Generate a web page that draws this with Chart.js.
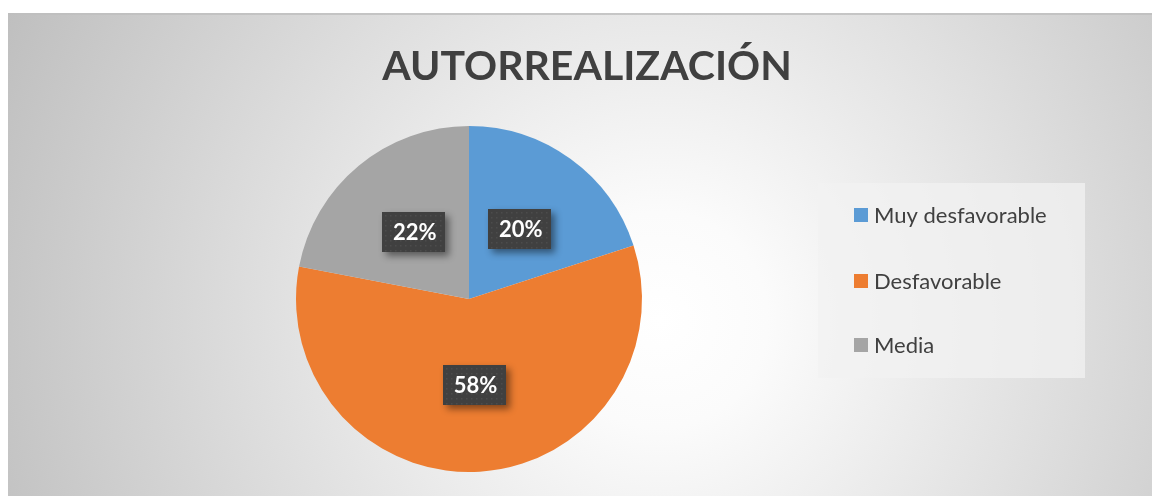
<!DOCTYPE html>
<html>
<head>
<meta charset="utf-8">
<script src="https://cdn.jsdelivr.net/npm/chart.js@4.4.0/dist/chart.umd.min.js"></script>
<style>
  html, body { margin: 0; padding: 0; background: #ffffff; }
  #wrap { width: 1152px; height: 496px; position: relative; }
</style>
</head>
<body>
<div id="wrap"><canvas id="c" width="1152" height="496"></canvas></div>
<script>
const titleText = "AUTORREALIZACIÓN";
const categories = ["Muy desfavorable", "Desfavorable", "Media"];
const values = [20, 58, 22];
const colors = ["#5B9BD5", "#ED7D31", "#A5A5A5"];

const backgroundPlugin = {
  id: 'bg',
  beforeDraw(chart) {
    const ctx = chart.ctx;
    ctx.save();
    ctx.fillStyle = '#ffffff';
    ctx.fillRect(0, 0, chart.width, chart.height);
    const x0 = 8, y0 = 13;
    const g = ctx.createRadialGradient(660, 320, 0, 660, 320, 720);
    g.addColorStop(0, '#ffffff');
    g.addColorStop(0.15, '#fbfbfb');
    g.addColorStop(1, '#bfbfbf');
    ctx.fillStyle = g;
    ctx.fillRect(x0, y0, chart.width - x0, chart.height - y0);
    ctx.fillStyle = 'rgba(190,190,190,0.8)';
    ctx.fillRect(x0, y0, chart.width - x0, 2);
    // title
    ctx.fillStyle = '#404040';
    ctx.font = 'bold 41px Lato, "Open Sans", sans-serif';
    ctx.textAlign = 'center';
    ctx.textBaseline = 'alphabetic';
    ctx.fillText(titleText, 587, 80);
    // legend box
    ctx.fillStyle = 'rgba(242,242,242,0.75)';
    ctx.fillRect(818, 183, 267, 195);
    const rows = [215, 281, 345];
    ctx.font = '22px Lato, "Open Sans", sans-serif';
    ctx.textAlign = 'left';
    ctx.textBaseline = 'middle';
    chart.data.labels.forEach((lab, i) => {
      ctx.fillStyle = chart.data.datasets[0].backgroundColor[i];
      ctx.fillRect(854, rows[i] - 7, 14, 14);
      ctx.fillStyle = '#404040';
      ctx.fillText(lab, 874, rows[i] + 1);
    });
    ctx.restore();
  }
};

const labelPlugin = {
  id: 'boxlabels',
  afterDatasetsDraw(chart) {
    const ctx = chart.ctx;
    const meta = chart.getDatasetMeta(0);
    const data = chart.data.datasets[0].data;
    const total = data.reduce((a, b) => a + b, 0);
    ctx.save();
    meta.data.forEach((arc, i) => {
      const p = arc.tooltipPosition();
      const txt = Math.round(data[i] / total * 100) + '%';
      const w = 63, h = 40;
      const x = Math.round(p.x - w / 2), y = Math.round(p.y - h / 2);
      ctx.save();
      ctx.shadowColor = 'rgba(0,0,0,0.45)';
      ctx.shadowBlur = 7;
      ctx.shadowOffsetX = 4;
      ctx.shadowOffsetY = 4;
      ctx.fillStyle = '#404040';
      ctx.fillRect(x, y, w, h);
      ctx.restore();
      ctx.fillStyle = '#4c4c4c';
      for (let yy = y + 3; yy < y + h - 1; yy += 5) {
        for (let xx = x + 3; xx < x + w - 1; xx += 5) {
          ctx.fillRect(xx, yy, 1.5, 1.5);
        }
      }
      ctx.fillStyle = '#ffffff';
      ctx.font = 'bold 22px Lato, "Open Sans", sans-serif';
      ctx.textAlign = 'center';
      ctx.textBaseline = 'middle';
      ctx.fillText(txt, p.x + 1, p.y + 1);
    });
    ctx.restore();
  }
};

new Chart(document.getElementById('c'), {
  type: 'pie',
  data: {
    labels: categories,
    datasets: [{
      data: values,
      backgroundColor: colors,
      borderWidth: 0
    }]
  },
  options: {
    responsive: false,
    animation: false,
    layout: { padding: { left: 296, right: 510, top: 126, bottom: 24 } },
    plugins: {
      legend: { display: false },
      title: { display: false },
      tooltip: { enabled: false }
    }
  },
  plugins: [backgroundPlugin, labelPlugin]
});
</script>
</body>
</html>
